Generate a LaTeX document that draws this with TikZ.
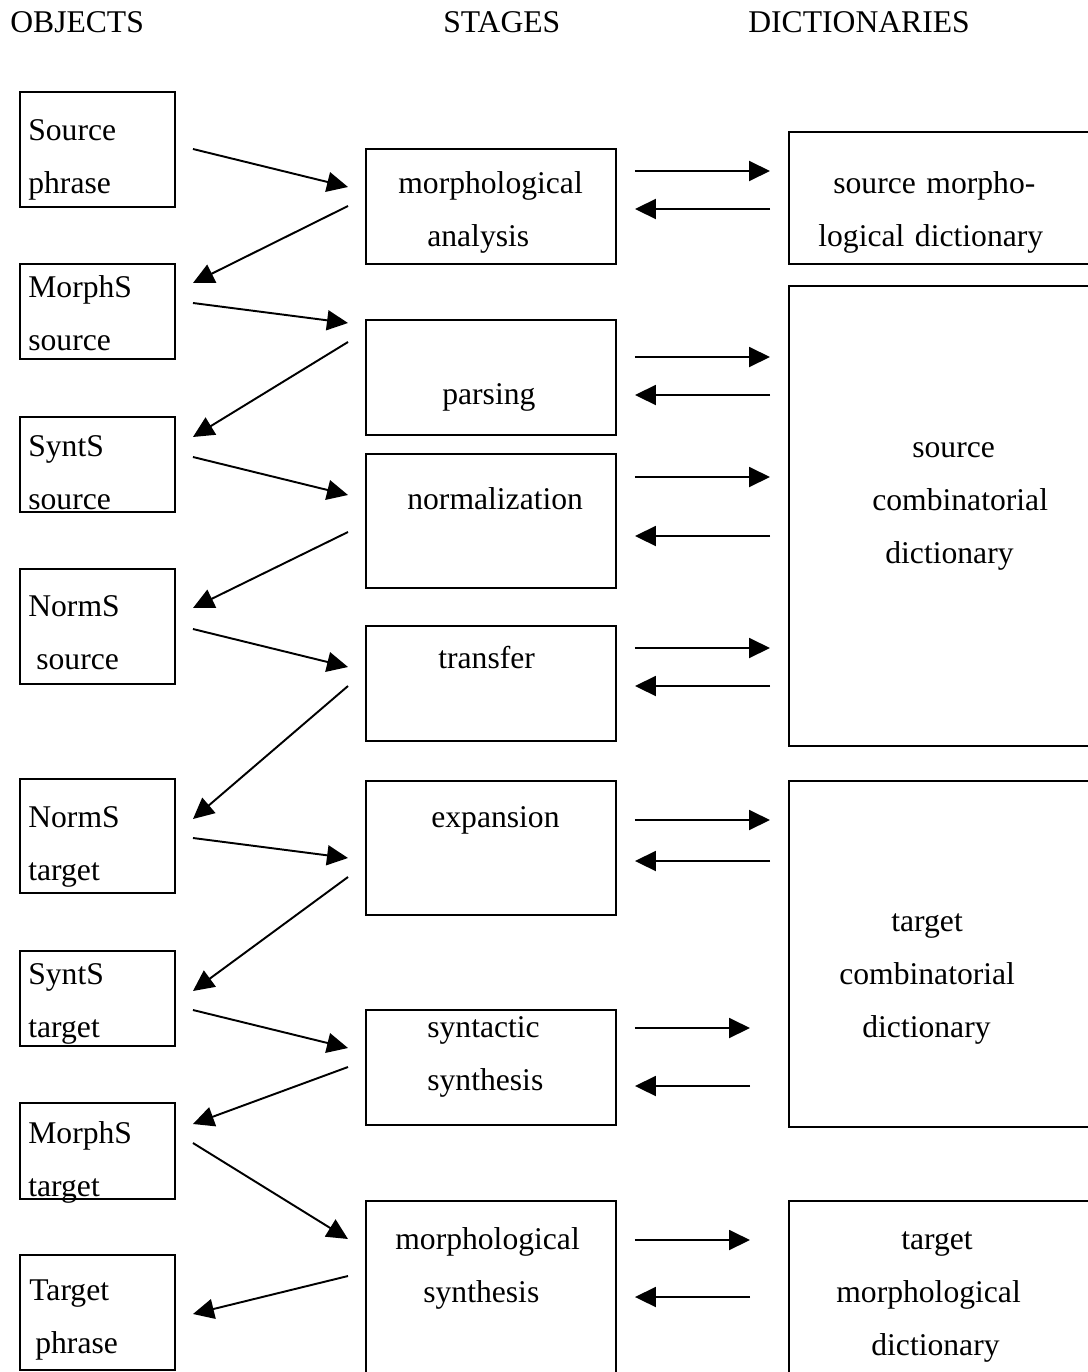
\documentclass[tikz,border=0pt]{standalone}
\usepackage{fontspec}
\setmainfont{Liberation Serif}
\usetikzlibrary{arrows.meta,calc}

\tikzset{
  box/.style={draw, line width=1.1pt, inner sep=0pt, outer sep=0pt, anchor=north west},
  obj/.style={box, minimum width=3.1cm},
  stg/.style={box, minimum width=5cm},
  dic/.style={box, minimum width=6.22cm},
  txt/.style={font=\fontsize{18}{30.2}\selectfont, inner sep=0pt},
  ltxt/.style={txt, anchor=base west, text width=6cm, align=left},
  arr/.style={line width=1.1pt, -{Triangle[length=0.42cm,width=0.4cm]}},
}

\begin{document}
\begin{tikzpicture}[x=0.02cm, y=-0.02cm]
	\useasboundingbox (0,0) rectangle (1088,1372);
	\clip (0,0) rectangle (1088,1372);

	% headings
	\node[txt, anchor=base west] (hobj) at (10,33) {OBJECTS};
	\node[txt, anchor=base west] (hstg) at (443,33) {STAGES};
	\node[txt, anchor=base west] (hdic) at (748,33) {DICTIONARIES};

	% objects
	\node[obj, minimum height=2.3cm] (src) at (20,92) {};
	\node[obj, minimum height=1.9cm] (mss) at (20,264) {};
	\node[obj, minimum height=1.9cm] (sss) at (20,417) {};
	\node[obj, minimum height=2.3cm] (nss) at (20,569) {};
	\node[obj, minimum height=2.28cm] (nst) at (20,779) {};
	\node[obj, minimum height=1.9cm] (sst) at (20,951) {};
	\node[obj, minimum height=1.92cm] (mst) at (20,1103) {};
	\node[obj, minimum height=2.3cm] (tgt) at (20,1255) {};

	\node[ltxt] (srct) at ([shift={(8,48)}]src.north west) {Source\\phrase};
	\node[ltxt] (msst) at ([shift={(8,33)}]mss.north west) {MorphS\\source};
	\node[ltxt] (ssst) at ([shift={(8,39)}]sss.north west) {SyntS\\source};
	\node[ltxt] (nsst) at ([shift={(8,47)}]nss.north west) {NormS\\\hspace*{0.16cm}source};
	\node[ltxt] (nstt) at ([shift={(8,48)}]nst.north west) {NormS\\target};
	\node[ltxt] (sstt) at ([shift={(8,33)}]sst.north west) {SyntS\\target};
	\node[ltxt] (mstt) at ([shift={(8,40)}]mst.north west) {MorphS\\target};
	\node[ltxt] (tgtt) at ([shift={(9,45)}]tgt.north west) {Target\\\hspace*{0.12cm}phrase};

	% stages
	\node[stg, minimum height=2.3cm] (ma) at (366,149) {};
	\node[stg, minimum height=2.3cm] (pa) at (366,320) {};
	\node[stg, minimum height=2.68cm] (no) at (366,454) {};
	\node[stg, minimum height=2.3cm] (tr) at (366,626) {};
	\node[stg, minimum height=2.68cm] (ex) at (366,781) {};
	\node[stg, minimum height=2.3cm] (sy) at (366,1010) {};
	\node[stg, minimum height=3.6cm] (mo) at (366,1201) {};

	\node[ltxt] (mat) at ([shift={(32,44)}]ma.north west) {morphological\\\hspace*{0.58cm}analysis};
	\node[ltxt] (pat) at ([shift={(76,84)}]pa.north west) {parsing};
	\node[ltxt] (not) at ([shift={(41,55)}]no.north west) {normalization};
	\node[ltxt] (trt) at ([shift={(72,42)}]tr.north west) {transfer};
	\node[ltxt] (ext) at ([shift={(65,46)}]ex.north west) {expansion};
	\node[ltxt] (syt) at ([shift={(61,27)}]sy.north west) {syntactic\\synthesis};
	\node[ltxt] (mot) at ([shift={(29,48)}]mo.north west) {morphological\\\hspace*{0.56cm}synthesis};

	% dictionaries
	\node[dic, minimum height=2.64cm] (smd) at (789,132) {};
	\node[dic, minimum height=9.2cm] (scd) at (789,286) {};
	\node[dic, minimum height=6.92cm] (tcd) at (789,781) {};
	\node[dic, minimum height=3.6cm] (tmd) at (789,1201) {};

	\node[ltxt] (smdt) at ([shift={(29,61)}]smd.north west) {\hspace*{0.3cm}source morpho-\\logical dictionary};
	\node[ltxt] (scdt) at ([shift={(83,171)}]scd.north west) {\hspace*{0.8cm}source\\combinatorial\\\hspace*{0.26cm}dictionary};
	\node[ltxt] (tcdt) at ([shift={(50,150)}]tcd.north west) {\hspace*{1.04cm}target\\combinatorial\\\hspace*{0.46cm}dictionary};
	\node[ltxt] (tmdt) at ([shift={(47,48)}]tmd.north west) {\hspace*{1.3cm}target\\morphological\\\hspace*{0.7cm}dictionary};

	% objects <-> stages
	\draw[arr] ($(src.north east)+(18,57)$) -- ($(ma.north west)+(-18,38)$);
	\draw[arr] ($(ma.north west)+(-18,57)$) -- ($(mss.north east)+(18,19)$);
	\draw[arr] ($(mss.north east)+(18,39)$) -- ($(pa.north west)+(-18,3)$);
	\draw[arr] ($(pa.north west)+(-18,22)$) -- ($(sss.north east)+(18,20)$);
	\draw[arr] ($(sss.north east)+(18,40)$) -- ($(no.north west)+(-18,41)$);
	\draw[arr] ($(no.north west)+(-18,78)$) -- ($(nss.north east)+(18,39)$);
	\draw[arr] ($(nss.north east)+(18,60)$) -- ($(tr.north west)+(-18,41)$);
	\draw[arr] ($(tr.north west)+(-18,60)$) -- ($(nst.north east)+(18,40)$);
	\draw[arr] ($(nst.north east)+(18,59)$) -- ($(ex.north west)+(-18,77)$);
	\draw[arr] ($(ex.north west)+(-18,96)$) -- ($(sst.north east)+(18,40)$);
	\draw[arr] ($(sst.north east)+(18,59)$) -- ($(sy.north west)+(-18,38)$);
	\draw[arr] ($(sy.north west)+(-18,57)$) -- ($(mst.north east)+(18,21)$);
	\draw[arr] ($(mst.north east)+(18,40)$) -- ($(mo.north west)+(-18,38)$);
	\draw[arr] ($(mo.north west)+(-18,75)$) -- ($(tgt.north east)+(18,59)$);

	% stages <-> dictionaries
	\draw[arr] ($(ma.north east)+(19,22)$) -- ($(smd.north west)+(-19,39)$);
	\draw[arr] ($(smd.north west)+(-19,77)$) -- ($(ma.north east)+(19,60)$);
	\draw[arr] ($(pa.north east)+(19,37)$) -- ($(scd.north west)+(-19,71)$);
	\draw[arr] ($(scd.north west)+(-19,109)$) -- ($(pa.north east)+(19,75)$);
	\draw[arr] ($(no.north east)+(19,23)$) -- ($(scd.north west)+(-19,191)$);
	\draw[arr] ($(scd.north west)+(-19,250)$) -- ($(no.north east)+(19,82)$);
	\draw[arr] ($(tr.north east)+(19,22)$) -- ($(scd.north west)+(-19,362)$);
	\draw[arr] ($(scd.north west)+(-19,400)$) -- ($(tr.north east)+(19,60)$);
	\draw[arr] ($(ex.north east)+(19,39)$) -- ($(tcd.north west)+(-19,39)$);
	\draw[arr] ($(tcd.north west)+(-19,80)$) -- ($(ex.north east)+(19,80)$);
	\draw[arr] ($(sy.north east)+(19,18)$) -- ($(tcd.north west)+(-39,247)$);
	\draw[arr] ($(tcd.north west)+(-39,305)$) -- ($(sy.north east)+(19,76)$);
	\draw[arr] ($(mo.north east)+(19,39)$) -- ($(tmd.north west)+(-39,39)$);
	\draw[arr] ($(tmd.north west)+(-39,96)$) -- ($(mo.north east)+(19,96)$);
\end{tikzpicture}
\end{document}
